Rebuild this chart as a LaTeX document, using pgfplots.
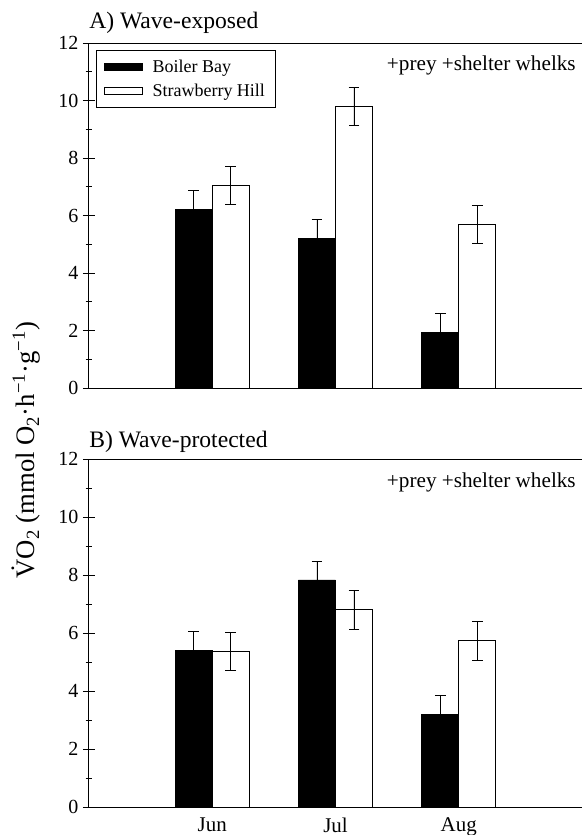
\documentclass[border=0pt]{standalone}
\usepackage{fontspec}
\setmainfont{Liberation Serif}
\usepackage{pgfplots}
\pgfplotsset{compat=1.18}

\pgfplotsset{
  panel/.style={
    width=369.75pt, scale only axis,
    xmin=0, xmax=4, ymin=0, ymax=12,
    ybar=0pt, bar width=27.75pt,
    axis x line=box, axis y line=left,
    axis line style={-, line width=0.75pt},
    xtick={1,2,3}, xtick style={draw=none},
    ytick={0,2,...,12}, minor y tick num=1,
    tick align=center, major tick length=9pt, minor tick length=5pt,
    every tick/.style={black, line width=0.6pt},
    yticklabel style={font=\fontsize{15}{17}\selectfont},
    xticklabel style={font=\fontsize{15.7}{18}\selectfont},
    /pgf/number format/assume math mode=true,
    clip=false,
  },
  bars/.style={
    line width=0.6pt, draw=black,
    error bars/y dir=both, error bars/y explicit,
    error bars/error mark options={rotate=90, mark size=4pt, line width=0.6pt},
    error bars/error bar style={line width=0.6pt, black},
  },
  bb/.style={bars, fill=black,
    legend image code/.code={\draw[fill=black, draw=black, line width=0.6pt] (0pt,-2.6pt) rectangle (28.5pt,2.6pt);}},
  sh/.style={bars, fill=white,
    legend image code/.code={\draw[fill=white, draw=black, line width=0.6pt] (0pt,-2.6pt) rectangle (28.5pt,2.6pt);}},
}
\tikzset{
  note/.style={anchor=base east, inner sep=0pt, font=\fontsize{15.9}{18}\selectfont},
  paneltitle/.style={anchor=base west, inner sep=0pt, font=\fontsize{17.7}{20}\selectfont},
}

\begin{document}
\begin{tikzpicture}
\path[use as bounding box] (-66.75pt,32.25pt) rectangle (369.75pt,-594pt);

% A) wave-exposed
\begin{axis}[panel, height=258.75pt, at={(0pt,0pt)}, anchor=north west,
    xticklabels={},
    legend cell align=left,
    legend style={at={(0,1)}, anchor=north west, xshift=5.25pt, yshift=-5.25pt,
      draw=black, line width=0.6pt, font=\fontsize{13.5}{16}\selectfont,
      inner xsep=6pt, inner ysep=5pt, row sep=3pt, column sep=5pt}]
  \addplot[bb] coordinates {
    (1,6.22) +- (0,0.65)
    (2,5.19) +- (0,0.68)
    (3,1.94) +- (0,0.66)
  };
  \addlegendentry{Boiler Bay}
  \addplot[sh] coordinates {
    (1,7.06) +- (0,0.66)
    (2,9.78) +- (0,0.66)
    (3,5.68) +- (0,0.66)
  };
  \addlegendentry{Strawberry Hill}
  \node[paneltitle, yshift=11.25pt] at (rel axis cs:0,1) {A) Wave-exposed};
  \node[note, xshift=-4.5pt, yshift=-20.25pt] at (rel axis cs:1,1) {+prey +shelter whelks};
\end{axis}

% B) wave-protected
\begin{axis}[panel, height=261pt, at={(0pt,-312pt)}, anchor=north west,
    xticklabels={Jun,Jul,Aug}]
  \addplot[bb] coordinates {
    (1,5.40) +- (0,0.65)
    (2,7.83) +- (0,0.65)
    (3,3.20) +- (0,0.65)
  };
  \addplot[sh] coordinates {
    (1,5.37) +- (0,0.66)
    (2,6.80) +- (0,0.66)
    (3,5.73) +- (0,0.67)
  };
  \node[paneltitle, yshift=9pt] at (rel axis cs:0,1) {B) Wave-protected};
  \node[note, xshift=-4.5pt, yshift=-21.5pt] at (rel axis cs:1,1) {+prey +shelter whelks};
\end{axis}

\node[rotate=90, inner sep=0pt, font=\fontsize{20}{23}\selectfont] at (-46.9pt,-305.25pt)
  {\.{V}O\textsubscript{2} (mmol O\textsubscript{2}·h\textsuperscript{−1}·g\textsuperscript{−1})};
\end{tikzpicture}
\end{document}
